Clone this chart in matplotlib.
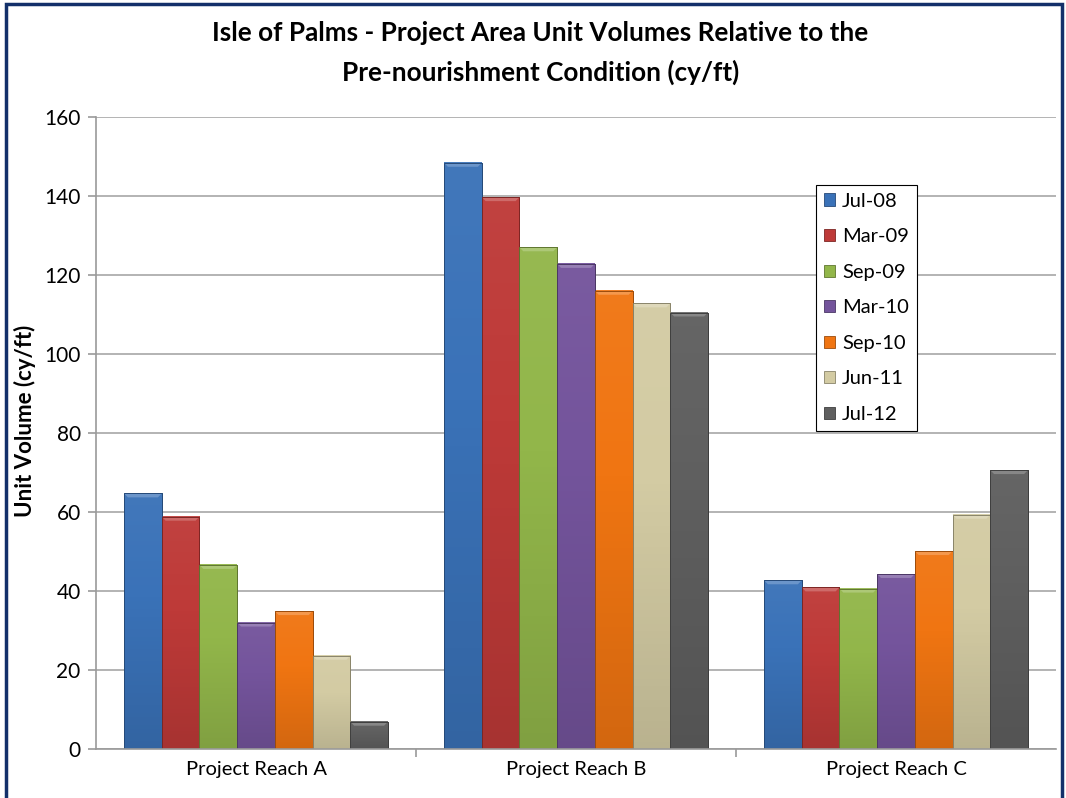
import numpy as np
import matplotlib
matplotlib.use('Agg')
import matplotlib.pyplot as plt
from matplotlib.colors import LinearSegmentedColormap, to_rgb
from matplotlib.patches import Polygon, Rectangle

plt.rcParams['font.family'] = ['Lato', 'DejaVu Sans']

reaches = ['Project Reach A', 'Project Reach B', 'Project Reach C']
surveys = ['Jul-08', 'Mar-09', 'Sep-09', 'Mar-10', 'Sep-10', 'Jun-11', 'Jul-12']
jul08 = [64.7, 148.4, 42.7]
mar09 = [58.8, 139.7, 40.9]
sep09 = [46.6, 127.0, 40.6]
mar10 = [32.0, 122.8, 44.3]
sep10 = [34.9, 116.0, 50.1]
jun11 = [23.6, 112.8, 59.3]
jul12 = [6.9, 110.5, 70.6]
series = [jul08, mar09, sep09, mar10, sep10, jun11, jul12]
colors = ['#3a72b8', '#be3a38', '#92b64a', '#74549c', '#f07512', '#d3cba3', '#5f5f5f']


def shade(c, f):
    r = np.array(to_rgb(c))
    if f >= 0:
        return tuple(r + (1 - r) * f)
    return tuple(r * (1 + f))


fig = plt.figure(figsize=(10.66, 7.98), dpi=100)
ax = fig.add_axes([96/1066, 1 - 749/798, 960/1066, 632/798])

x = np.arange(len(reaches))
width = 37.7 / 320
for i, (vals, col) in enumerate(zip(series, colors)):
    offs = x + (i - 3) * width
    bars = ax.bar(offs, vals, width=width, color=col, edgecolor=shade(col, -0.35),
                  linewidth=0.6, label=surveys[i], zorder=2)
    cmap = LinearSegmentedColormap.from_list(
        'g', [(0, shade(col, -0.12)), (0.6, col), (1, shade(col, 0.04))])
    for b in bars:
        bx, bw, bh = b.get_x(), b.get_width(), b.get_height()
        grad = np.linspace(0, 1, 64).reshape(-1, 1)
        ax.imshow(grad, extent=[bx, bx + bw, 0, bh], origin='lower', aspect='auto',
                  cmap=cmap, zorder=2.1)
        # bevel on the top edge
        bev = 1.0
        dx = 0.012
        ax.add_patch(Polygon([[bx, bh], [bx + bw, bh], [bx + bw - dx, bh - bev], [bx + dx, bh - bev]],
                             closed=True, facecolor=shade(col, 0.25), edgecolor='none', zorder=2.2))
        ax.add_patch(Rectangle((bx, 0), bw, bh, facecolor='none',
                               edgecolor=shade(col, -0.35), linewidth=0.7, zorder=2.3))

ax.set_xlim(-0.5, 2.5)
ax.set_ylim(0, 160)
ax.set_yticks(np.arange(0, 161, 20))
ax.yaxis.grid(True, color='#b3b3b3', linewidth=1.4, zorder=0)
ax.set_axisbelow(True)
ax.set_xticks([0.5, 1.5], minor=False)
ax.set_xticklabels(['', ''])
ax.set_xticks(x, minor=True)
ax.set_xticklabels(reaches, minor=True, fontsize=14.5)
ax.tick_params(axis='x', which='minor', length=0, pad=9)
ax.tick_params(axis='x', which='major', length=6, color='#9a9a9a', width=1.2)
ax.tick_params(axis='y', length=6, color='#9a9a9a', width=1.2, labelsize=15, pad=5)
for s in ['top', 'right']:
    ax.spines[s].set_visible(False)
for s in ['left', 'bottom']:
    ax.spines[s].set_color('#9a9a9a')
    ax.spines[s].set_linewidth(1.2)

ax.set_ylabel('Unit Volume (cy/ft)', fontsize=16, fontweight='bold')
ax.yaxis.set_label_coords(-0.063, 0.519)

fig.text(0.507, 1 - 33/798, 'Isle of Palms - Project Area Unit Volumes Relative to the',
         ha='center', va='center', fontsize=18.8, fontweight='bold')
fig.text(0.507, 1 - 72/798, 'Pre-nourishment Condition (cy/ft)',
         ha='center', va='center', fontsize=18.8, fontweight='bold')

leg = ax.legend(loc='upper left', bbox_to_anchor=(0.75, 0.893), fontsize=14.5,
                handlelength=0.55, handleheight=0.55, handletextpad=0.35,
                labelspacing=0.92, borderpad=0.4, borderaxespad=0, fancybox=False,
                framealpha=1, edgecolor='black')
leg.get_frame().set_linewidth(0.8)

# dark outer frame around the chart area
fig.patches.append(Rectangle((6/1066, -0.02), 1056/1066, 1 - 4/798 + 0.02,
                             transform=fig.transFigure, fill=False,
                             edgecolor='#13306a', linewidth=2.5))

fig.savefig('out.png', dpi=100)
